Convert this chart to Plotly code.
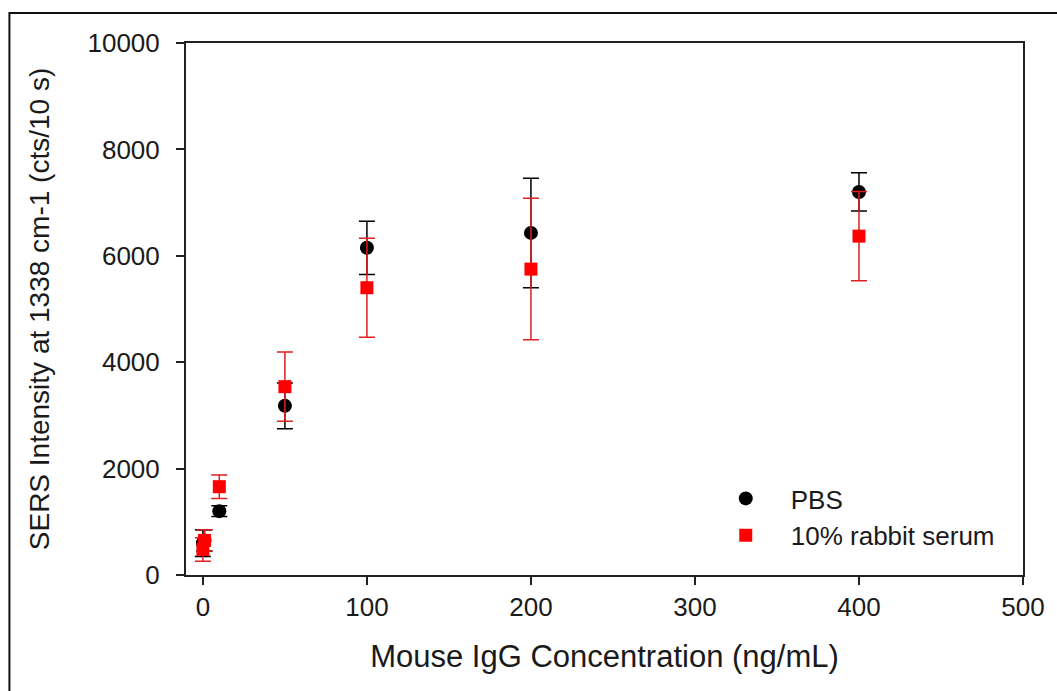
import plotly.graph_objects as go

# Data
conc = [0, 1, 10, 50, 100, 200, 400]
pbs = [600, 650, 1200, 3180, 6150, 6430, 7200]
pbs_err = [250, 200, 100, 430, 500, 1030, 360]
serum = [480, 650, 1660, 3540, 5400, 5750, 6370]
serum_err = [220, 200, 220, 650, 930, 1330, 840]

x_ticks = [0, 100, 200, 300, 400, 500]
y_ticks = [0, 2000, 4000, 6000, 8000, 10000]

font_family = "Liberation Sans, Arial, sans-serif"

fig = go.Figure()
fig.add_trace(go.Scatter(
    x=conc, y=pbs, mode="markers", name="PBS",
    marker=dict(symbol="circle", size=14, color="black"),
    error_y=dict(type="data", array=pbs_err, visible=True,
                 color="black", thickness=1.5, width=8),
))
fig.add_trace(go.Scatter(
    x=conc, y=serum, mode="markers", name="10% rabbit serum",
    marker=dict(symbol="square", size=13, color="#ff0000"),
    error_y=dict(type="data", array=serum_err, visible=True,
                 color="#dd2020", thickness=1.5, width=8),
))

W, H = 1057, 691
L, R, T, B = 186, 1025, 43, 575

fig.update_layout(
    width=W, height=H,
    margin=dict(l=L, r=W - R, t=T, b=H - B),
    paper_bgcolor="white", plot_bgcolor="white",
    font=dict(family=font_family, color="#1a1a1a", size=26),
    showlegend=True,
    legend=dict(x=0.615, y=0.188, xanchor="left", yanchor="top",
                bgcolor="rgba(0,0,0,0)", font=dict(size=26),
                itemwidth=80, tracegroupgap=0),
)
fig.update_xaxes(
    range=[-10.3, 500], tickvals=x_ticks, ticks="outside", ticklen=8,
    tickwidth=1.5, tickcolor="#222",
    showline=True, linecolor="#222", linewidth=2, mirror=True,
    showgrid=False, zeroline=False,
    tickfont=dict(size=26),
    title=dict(text="Mouse IgG Concentration (ng/mL)", font=dict(size=31), standoff=24),
)
fig.update_yaxes(
    range=[0, 10000], tickvals=y_ticks, tickformat="d", ticks="outside", ticklen=8,
    tickwidth=1.5, tickcolor="#222",
    showline=True, linecolor="#222", linewidth=2, mirror=True,
    showgrid=False, zeroline=False,
    tickfont=dict(size=26), ticklabelstandoff=11,
    title=dict(text="SERS Intensity at 1338 cm-1 (cts/10 s)", font=dict(size=28), standoff=30),
)

# outer frame of the figure
pw, ph = R - L, B - T
fig.add_shape(type="rect", xref="paper", yref="paper",
              x0=(9 - L) / pw, x1=(W + 5 - L) / pw,
              y0=(B - (H + 5)) / ph, y1=(B - 13) / ph,
              line=dict(color="#111", width=2), fillcolor="rgba(0,0,0,0)",
              layer="below")

fig.write_html("out.html")
